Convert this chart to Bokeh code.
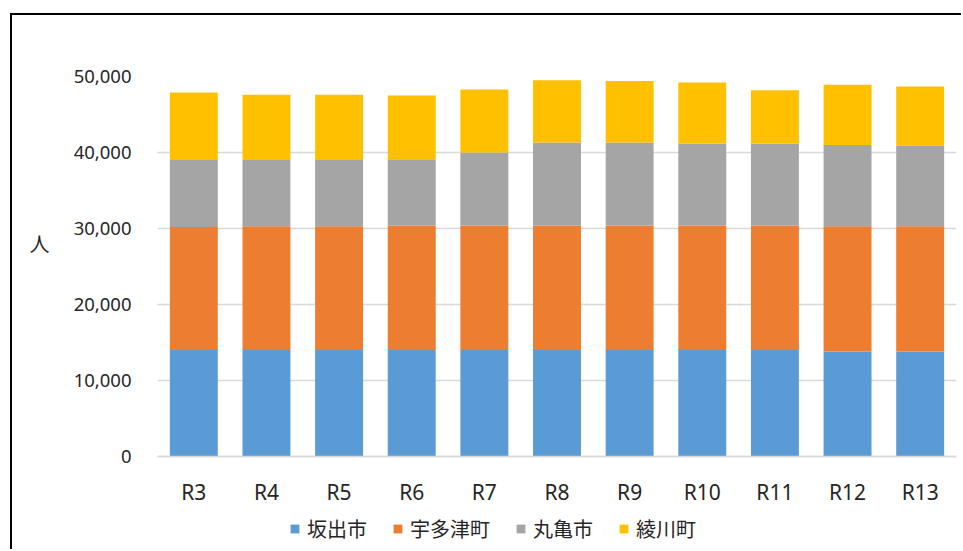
from bokeh.plotting import figure
from bokeh.models import Legend, LegendItem, LinearAxis, NumeralTickFormatter, FixedTicker
from bokeh.embed import file_html
from bokeh.resources import INLINE

# Population by fiscal year for four municipalities (stacked)
years = ["R3", "R4", "R5", "R6", "R7", "R8", "R9", "R10", "R11", "R12", "R13"]
sakaide = [14000, 14000, 14000, 14000, 14000, 14000, 14000, 14000, 14000, 13800, 13800]
utazu = [16200, 16300, 16300, 16400, 16400, 16400, 16400, 16400, 16400, 16500, 16500]
marugame = [8800, 8700, 8700, 8700, 9600, 10900, 10900, 10800, 10800, 10700, 10600]
ayagawa = [8900, 8600, 8600, 8400, 8300, 8200, 8100, 8000, 7000, 7900, 7800]

series = ["坂出市", "宇多津町", "丸亀市", "綾川町"]
colors = ["#5B9BD5", "#ED7D31", "#A5A5A5", "#FFC000"]
y_ticks = [0, 10000, 20000, 30000, 40000, 50000]
unit_label = "人"

data = {"year": years, "坂出市": sakaide, "宇多津町": utazu, "丸亀市": marugame, "綾川町": ayagawa}

# the frame reaches below zero so the category labels and legend sit inside it
p = figure(
    x_range=years, y_range=(-12500, 50000),
    width=951, height=536,
    min_border_left=145, min_border_right=7, min_border_top=61, min_border_bottom=0,
    output_backend="svg", toolbar_location=None,
)
# chart-area edge on the left and top
p.styles = {
    "margin-left": "12px", "margin-top": "15px",
    "box-shadow": "-2px -2px 0 0 #000000",
}
p.outline_line_color = None
p.background_fill_color = "white"
p.border_fill_color = "white"

renderers = p.vbar_stack(series, x="year", width=0.66, color=colors, line_color=None, source=data)

# value axis
p.yaxis.ticker = FixedTicker(ticks=y_ticks)
p.yaxis.formatter = NumeralTickFormatter(format="0,0")
p.yaxis.axis_line_color = None
p.yaxis.major_tick_line_color = None
p.yaxis.minor_tick_line_color = None
p.yaxis.major_label_text_font = "Noto Sans"
p.yaxis.major_label_text_font_size = "18.5px"
p.yaxis.major_label_text_color = "#262626"
p.yaxis.major_label_standoff = 20

# unit caption, set upright beside the value axis
unit_axis = LinearAxis(
    ticker=FixedTicker(ticks=[28000]),
    major_label_overrides={28000: unit_label},
    axis_line_color=None, major_tick_line_color=None, minor_tick_line_color=None,
    major_label_text_font="Noto Sans CJK JP", major_label_text_font_size="20px",
    major_label_text_color="#262626", major_label_standoff=15,
)
p.add_layout(unit_axis, "left")

# category axis drawn at zero
p.xaxis.fixed_location = 0
p.xaxis.axis_line_color = "#D9D9D9"
p.xaxis.axis_line_width = 1.5
p.xaxis.major_tick_line_color = None
p.xaxis.minor_tick_line_color = None
p.xaxis.major_label_text_font = "Noto Sans"
p.xaxis.major_label_text_font_size = "21px"
p.xaxis.major_label_text_color = "#262626"
p.xaxis.major_label_standoff = 15

p.xgrid.grid_line_color = None
p.ygrid.grid_line_color = "#D9D9D9"
p.ygrid.grid_line_width = 1.5

legend = Legend(
    items=[LegendItem(label=s, renderers=[r]) for s, r in zip(series, renderers)],
    orientation="horizontal", location=(132, 8),
    glyph_width=11, glyph_height=11, label_standoff=7, spacing=25,
    label_text_font="Noto Sans CJK JP", label_text_font_size="20px", label_text_color="#262626",
    padding=0, margin=0, border_line_color=None, background_fill_alpha=0,
)
p.add_layout(legend, "center")

open("out.html", "w").write(file_html(p, INLINE))
